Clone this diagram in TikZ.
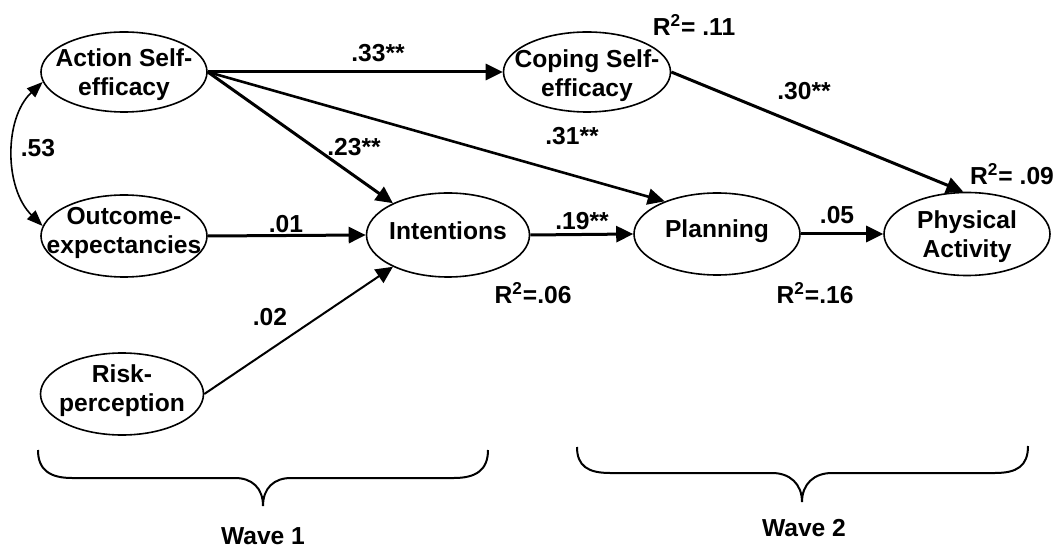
\documentclass[tikz,border=0pt]{standalone}
\usepackage{fontspec}
\setmainfont{Liberation Sans}
\usetikzlibrary{shapes.geometric,arrows.meta}
\begin{document}
\begin{tikzpicture}[x=0.5pt,y=-0.5pt,
  ell/.style={draw,ellipse,line width=0.8pt,inner sep=0pt},
  txt/.style={font=\fontsize{12.3}{14.5}\selectfont\bfseries,align=center,inner sep=0pt},
  lbl/.style={font=\fontsize{12.3}{14.5}\selectfont\bfseries,inner sep=0pt},
  arr/.style={-{Triangle[length=8.5pt,width=8pt]},line width=1.5pt},
  brace/.style={line width=1pt},
]
\useasboundingbox (0,0) rectangle (1059,550);
% ellipses
\node[ell,minimum width=83pt,minimum height=40pt] (as) at (124,72) {};
\node[ell,minimum width=83pt,minimum height=41pt] (oe) at (124,236) {};
\node[ell,minimum width=81.5pt,minimum height=41pt] (rp) at (122,394) {};
\node[ell,minimum width=83.5pt,minimum height=40pt] (cs) at (587,72) {};
\node[ell,minimum width=81.5pt,minimum height=42pt] (int) at (448,235) {};
\node[ell,minimum width=83pt,minimum height=41pt] (pl) at (717,234) {};
\node[ell,minimum width=83pt,minimum height=41.5pt] (pa) at (967,234) {};
% texts
\node[txt] (tas) at (124,75) {Action Self-\\efficacy};
\node[txt] (toe) at (124,233) {Outcome-\\expectancies};
\node[txt] (trp) at (122,391) {Risk-\\perception};
\node[txt] (tcs) at (587,76) {Coping Self-\\efficacy};
\node[txt] (tint) at (448,231) {Intentions};
\node[txt] (tpl) at (717,231) {Planning};
\node[txt] (tpa) at (967,237) {Physical\\Activity};
% arrows
\draw[arr] (as.east) -- (cs.west);
\draw[arr] (as.east) -- (int.150);
\draw[arr,line width=1.3pt] (as.east) -- (pl.148);
\draw[arr] (cs.east) -- (pa.95);
\draw[arr] (oe.east) -- (int.west);
\draw[arr,line width=1pt] (rp.east) -- (int.210);
\draw[arr] (int.east) -- (pl.west);
\draw[arr] (pl.east) -- (pa.west);
\draw[line width=0.8pt,{Triangle[length=8pt,width=6pt]}-{Triangle[length=8pt,width=6pt]}]
  (as.187) .. controls (4,118) and (4,188) .. (oe.173);
% coefficient labels
\node[lbl] (l33) at (378,53) {.33**};
\node[lbl] (l23) at (354,147) {.23**};
\node[lbl] (l31) at (572,136) {.31**};
\node[lbl] (l30) at (804,91) {.30**};
\node[lbl] (l01) at (286,224) {.01};
\node[lbl] (l02) at (270,317) {.02};
\node[lbl] (l19) at (582,221) {.19**};
\node[lbl] (l05) at (837,215) {.05};
\node[lbl] (l53) at (38,148) {.53};
% R squared
\node[lbl] (rcs) at (694,25) {R\textsuperscript{2}= .11};
\node[lbl] (rpa) at (1012,174) {R\textsuperscript{2}= .09};
\node[lbl] (rint) at (533,293) {R\textsuperscript{2}=.06};
\node[lbl] (rpl) at (815,293) {R\textsuperscript{2}=.16};
% braces
\draw[brace] (38,450) .. controls (38,470) and (50,478) .. (72,478) -- (235,478)
  .. controls (252,478) and (263,488) .. (263,506)
  .. controls (263,488) and (274,478) .. (291,478) -- (454,478)
  .. controls (476,478) and (488,470) .. (488,450);
\draw[brace] (577,447) .. controls (577,466) and (588,473) .. (610,473) -- (772,473)
  .. controls (790,473) and (802,484) .. (802,502)
  .. controls (802,484) and (814,473) .. (832,473) -- (995,473)
  .. controls (1017,473) and (1028,466) .. (1028,446);
\node[lbl] (w1) at (263,536) {Wave 1};
\node[lbl] (w2) at (804,528) {Wave 2};
\end{tikzpicture}
\end{document}
